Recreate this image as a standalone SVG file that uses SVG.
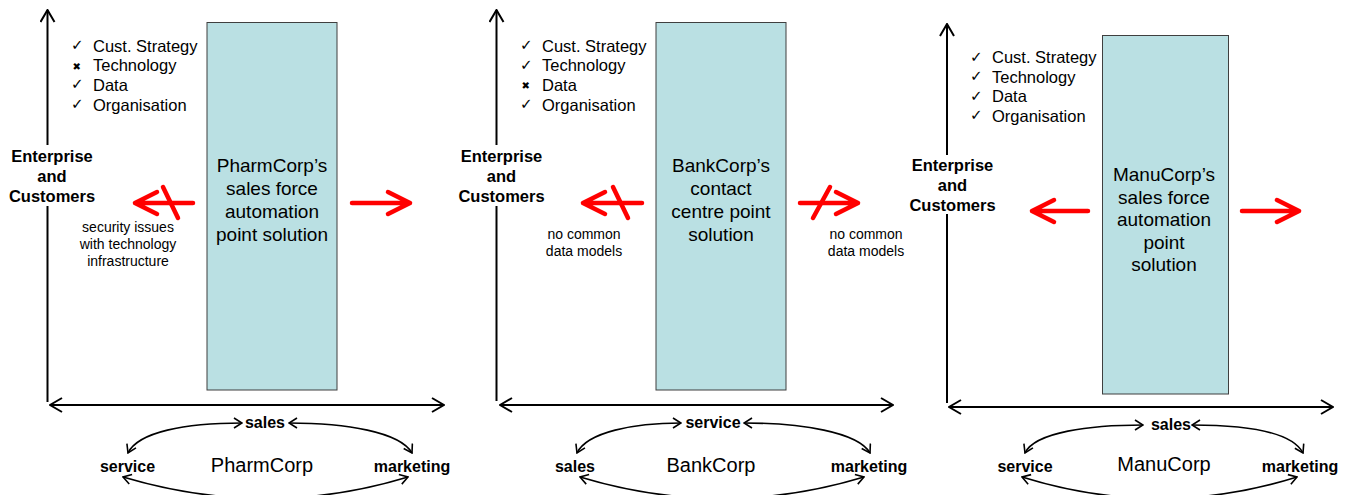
<svg xmlns="http://www.w3.org/2000/svg" width="1351" height="495" viewBox="0 0 1351 495">
<style>
text{font-family:"Liberation Sans",Arial,sans-serif;fill:#000}
.chk{font-size:16.5px}
.mk{font-family:"DejaVu Sans",sans-serif;font-size:15px}
.xm{font-family:"DejaVu Sans",sans-serif;font-size:10px}
.ent{font-size:16.5px;font-weight:bold;text-anchor:middle}
.box{fill:#BAE0E3;stroke:#3F3F3F;stroke-width:1}
.bt{font-size:19px;text-anchor:middle}
.ann{font-size:14px;text-anchor:middle}
.cl{font-size:16px;font-weight:bold;text-anchor:middle}
.corp{font-size:20px;text-anchor:middle}
.ax{stroke:#000;stroke-width:2;fill:none}
.cy{stroke:#000;stroke-width:1.6;fill:none;marker-start:url(#ch);marker-end:url(#ch)}
.red{stroke:#FF0000;stroke-width:4.5;fill:none;stroke-linecap:round;stroke-linejoin:round}
</style>
<defs>
<marker id="ah" viewBox="0 0 14 16" refX="13" refY="8" markerWidth="14" markerHeight="16" markerUnits="userSpaceOnUse" orient="auto-start-reverse">
<path d="M1,1 L13,8 L1,15" fill="none" stroke="#000" stroke-width="2"/>
</marker>
<marker id="ch" viewBox="0 0 10 12" refX="9" refY="6" markerWidth="10" markerHeight="12" markerUnits="userSpaceOnUse" orient="auto-start-reverse">
<path d="M1,1 L9,6 L1,11" fill="none" stroke="#000" stroke-width="1.6"/>
</marker>
</defs>

<g id="connectors">
<path class="ax" d="M47.5,145 L47.5,10" marker-end="url(#ah)"/>
<path class="ax" d="M47.5,206 L47.5,402"/>
<path class="ax" d="M50,405 L444,405" marker-start="url(#ah)" marker-end="url(#ah)"/>
<path class="ax" d="M496.5,145 L496.5,10" marker-end="url(#ah)"/>
<path class="ax" d="M496.5,206 L496.5,401"/>
<path class="ax" d="M500,405 L893,405" marker-start="url(#ah)" marker-end="url(#ah)"/>
<path class="ax" d="M947,155 L947,24" marker-end="url(#ah)"/>
<path class="ax" d="M947,214 L947,403"/>
<path class="ax" d="M949,407 L1333,407" marker-start="url(#ah)" marker-end="url(#ah)"/>

<path class="red" d="M193,203 L135,203 M157,192 L135,203 L157,214"/>
<path class="red" d="M163,187 L178,218"/>
<path class="red" d="M352,203 L410,203 M388,192 L410,203 L388,214"/>

<path class="red" d="M642,203 L583,203 M605,192 L583,203 L605,214"/>
<path class="red" d="M613,187 L628,218"/>
<path class="red" d="M800,203 L858,203 M836,192 L858,203 L836,214"/>
<path class="red" d="M830,187 L813,218"/>

<path class="red" d="M1088,211 L1032,211 M1054,200 L1032,211 L1054,222"/>
<path class="red" d="M1242,211 L1299,211 M1277,200 L1299,211 L1277,222"/>

<path class="cy" d="M128,453 C138,432 185,423 242,423"/>
<path class="cy" d="M289,423 C346,423 400,432 412,453"/>
<path class="cy" d="M123,477 Q267,520 408,477"/>

<path class="cy" d="M577,453 C587,432 634,423 681,423"/>
<path class="cy" d="M744,423 C801,423 858,432 870,453"/>
<path class="cy" d="M580,477 Q722,520 864,477"/>

<path class="cy" d="M1025,453 C1035,432 1090,425 1143,425"/>
<path class="cy" d="M1192,425 C1250,425 1292,432 1303,453"/>
<path class="cy" d="M1022,477 Q1160,520 1297,477"/>
</g>

<g id="p1-checklist">
<text class="mk" x="71" y="50">✓</text><text class="chk" x="93" y="51.5">Cust. Strategy</text>
<text class="xm" x="72.5" y="69.5">✖</text><text class="chk" x="93" y="71.2">Technology</text>
<text class="mk" x="71" y="89.4">✓</text><text class="chk" x="93" y="90.9">Data</text>
<text class="mk" x="71" y="109.1">✓</text><text class="chk" x="93" y="110.6">Organisation</text>
</g>
<g id="p1-enterprise">
<text class="ent" x="52" y="162">Enterprise</text>
<text class="ent" x="52" y="182">and</text>
<text class="ent" x="52" y="202">Customers</text>
</g>
<g id="p1-solution">
<rect class="box" x="207" y="22.5" width="130" height="367.5"/>
<text class="bt" x="272" y="172">PharmCorp’s</text>
<text class="bt" x="272" y="195">sales force</text>
<text class="bt" x="272" y="218">automation</text>
<text class="bt" x="272" y="241">point solution</text>
</g>
<g id="p1-note">
<text class="ann" x="128" y="232">security issues</text>
<text class="ann" x="128" y="249">with technology</text>
<text class="ann" x="128" y="265.5">infrastructure</text>
</g>
<g id="p1-cycle">
<text class="cl" x="265" y="428">sales</text>
<text class="cl" x="127.5" y="472">service</text>
<text class="corp" x="262" y="472">PharmCorp</text>
<text class="cl" x="412" y="472">marketing</text>
</g>

<g id="p2-checklist">
<text class="mk" x="520" y="50">✓</text><text class="chk" x="542" y="51.5">Cust. Strategy</text>
<text class="mk" x="520" y="69.7">✓</text><text class="chk" x="542" y="71.2">Technology</text>
<text class="xm" x="521.5" y="89.2">✖</text><text class="chk" x="542" y="90.9">Data</text>
<text class="mk" x="520" y="109.1">✓</text><text class="chk" x="542" y="110.6">Organisation</text>
</g>
<g id="p2-enterprise">
<text class="ent" x="501.5" y="162">Enterprise</text>
<text class="ent" x="501.5" y="182">and</text>
<text class="ent" x="501.5" y="202">Customers</text>
</g>
<g id="p2-solution">
<rect class="box" x="656" y="22.5" width="130" height="367.5"/>
<text class="bt" x="721" y="172">BankCorp’s</text>
<text class="bt" x="721" y="195">contact</text>
<text class="bt" x="721" y="218">centre point</text>
<text class="bt" x="721" y="241">solution</text>
</g>
<g id="p2-note-left">
<text class="ann" x="584" y="239">no common</text>
<text class="ann" x="584" y="256">data models</text>
</g>
<g id="p2-note-right">
<text class="ann" x="866" y="239">no common</text>
<text class="ann" x="866" y="256">data models</text>
</g>
<g id="p2-cycle">
<text class="cl" x="713" y="428">service</text>
<text class="cl" x="575" y="472">sales</text>
<text class="corp" x="711" y="472">BankCorp</text>
<text class="cl" x="869" y="472">marketing</text>
</g>

<g id="p3-checklist">
<text class="mk" x="970" y="61.8">✓</text><text class="chk" x="992" y="63.3">Cust. Strategy</text>
<text class="mk" x="970" y="81.3">✓</text><text class="chk" x="992" y="82.8">Technology</text>
<text class="mk" x="970" y="100.8">✓</text><text class="chk" x="992" y="102.3">Data</text>
<text class="mk" x="970" y="120.3">✓</text><text class="chk" x="992" y="121.8">Organisation</text>
</g>
<g id="p3-enterprise">
<text class="ent" x="952.5" y="171">Enterprise</text>
<text class="ent" x="952.5" y="191">and</text>
<text class="ent" x="952.5" y="210.5">Customers</text>
</g>
<g id="p3-solution">
<rect class="box" x="1102.5" y="35.5" width="126" height="358.5"/>
<text class="bt" x="1164" y="181">ManuCorp’s</text>
<text class="bt" x="1164" y="203.5">sales force</text>
<text class="bt" x="1164" y="226">automation</text>
<text class="bt" x="1164" y="248.5">point</text>
<text class="bt" x="1164" y="271">solution</text>
</g>
<g id="p3-cycle">
<text class="cl" x="1171" y="430">sales</text>
<text class="cl" x="1025" y="472">service</text>
<text class="corp" x="1164" y="471">ManuCorp</text>
<text class="cl" x="1300" y="472">marketing</text>
</g>
</svg>
